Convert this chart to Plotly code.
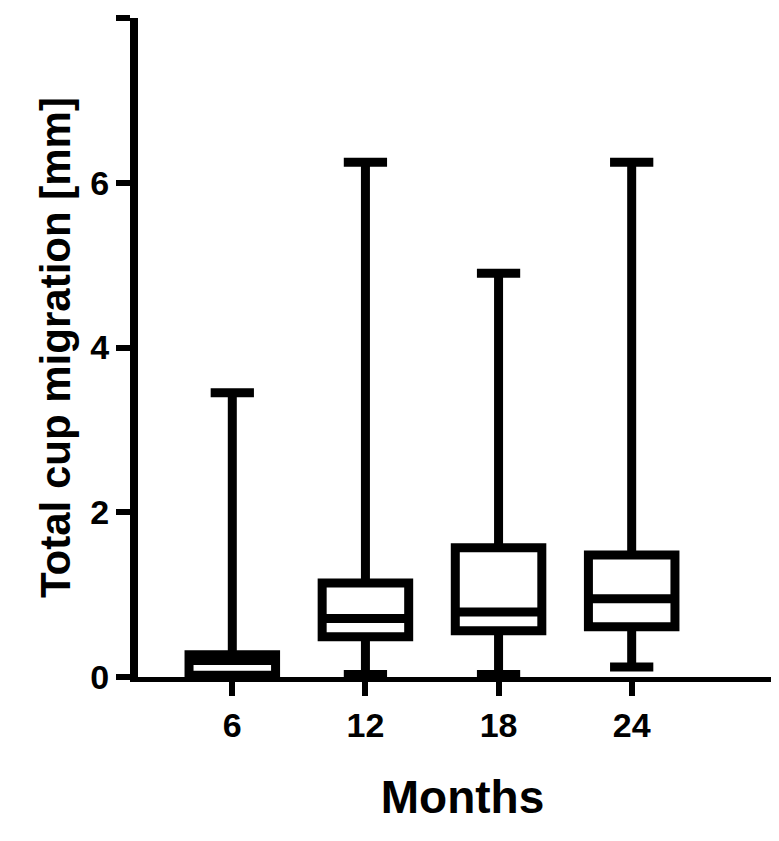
import plotly.graph_objects as go

months = [6, 12, 18, 24]
lower = [0.0, 0.03, 0.03, 0.12]
q1 = [0.02, 0.49, 0.56, 0.61]
median = [0.2, 0.71, 0.79, 0.95]
q3 = [0.27, 1.14, 1.57, 1.48]
upper = [3.45, 6.25, 4.9, 6.25]

fig = go.Figure(
    go.Box(
        x=months, q1=q1, median=median, q3=q3,
        lowerfence=lower, upperfence=upper,
        width=3.9, whiskerwidth=0.5,
        fillcolor="white", line=dict(color="black", width=9),
        boxpoints=False, showlegend=False, hoverinfo="skip",
    )
)

tickfont = dict(family="Liberation Sans", size=34, color="black")
fig.update_layout(
    width=779, height=841,
    margin=dict(l=130, r=0, t=10, b=172, pad=0),
    plot_bgcolor="white", paper_bgcolor="white",
    font=dict(family="Liberation Sans", color="black"),
    xaxis=dict(
        range=[1.75, 31.0], tickvals=months, ticktext=[f"<b>{m}</b>" for m in months],
        tickfont=tickfont,
        showline=True, linecolor="black", linewidth=5, ticks="outside",
        ticklen=14, tickwidth=6, tickcolor="black", showgrid=False, zeroline=False,
        title=dict(text="<b>Months</b>", font=dict(size=46), standoff=40),
    ),
    yaxis=dict(
        range=[0, 8], tickvals=[0, 2, 4, 6, 8],
        ticktext=[f"<b>{v}</b>" for v in [0, 2, 4, 6, 8]],
        tickfont=tickfont,
        showline=True, linecolor="black", linewidth=8, ticks="outside",
        ticklen=14, tickwidth=6, tickcolor="black", showgrid=False, zeroline=False,
        title=dict(text="<b>Total cup migration [mm]</b>", font=dict(size=42), standoff=10),
    ),
)
fig.write_html("out.html")
